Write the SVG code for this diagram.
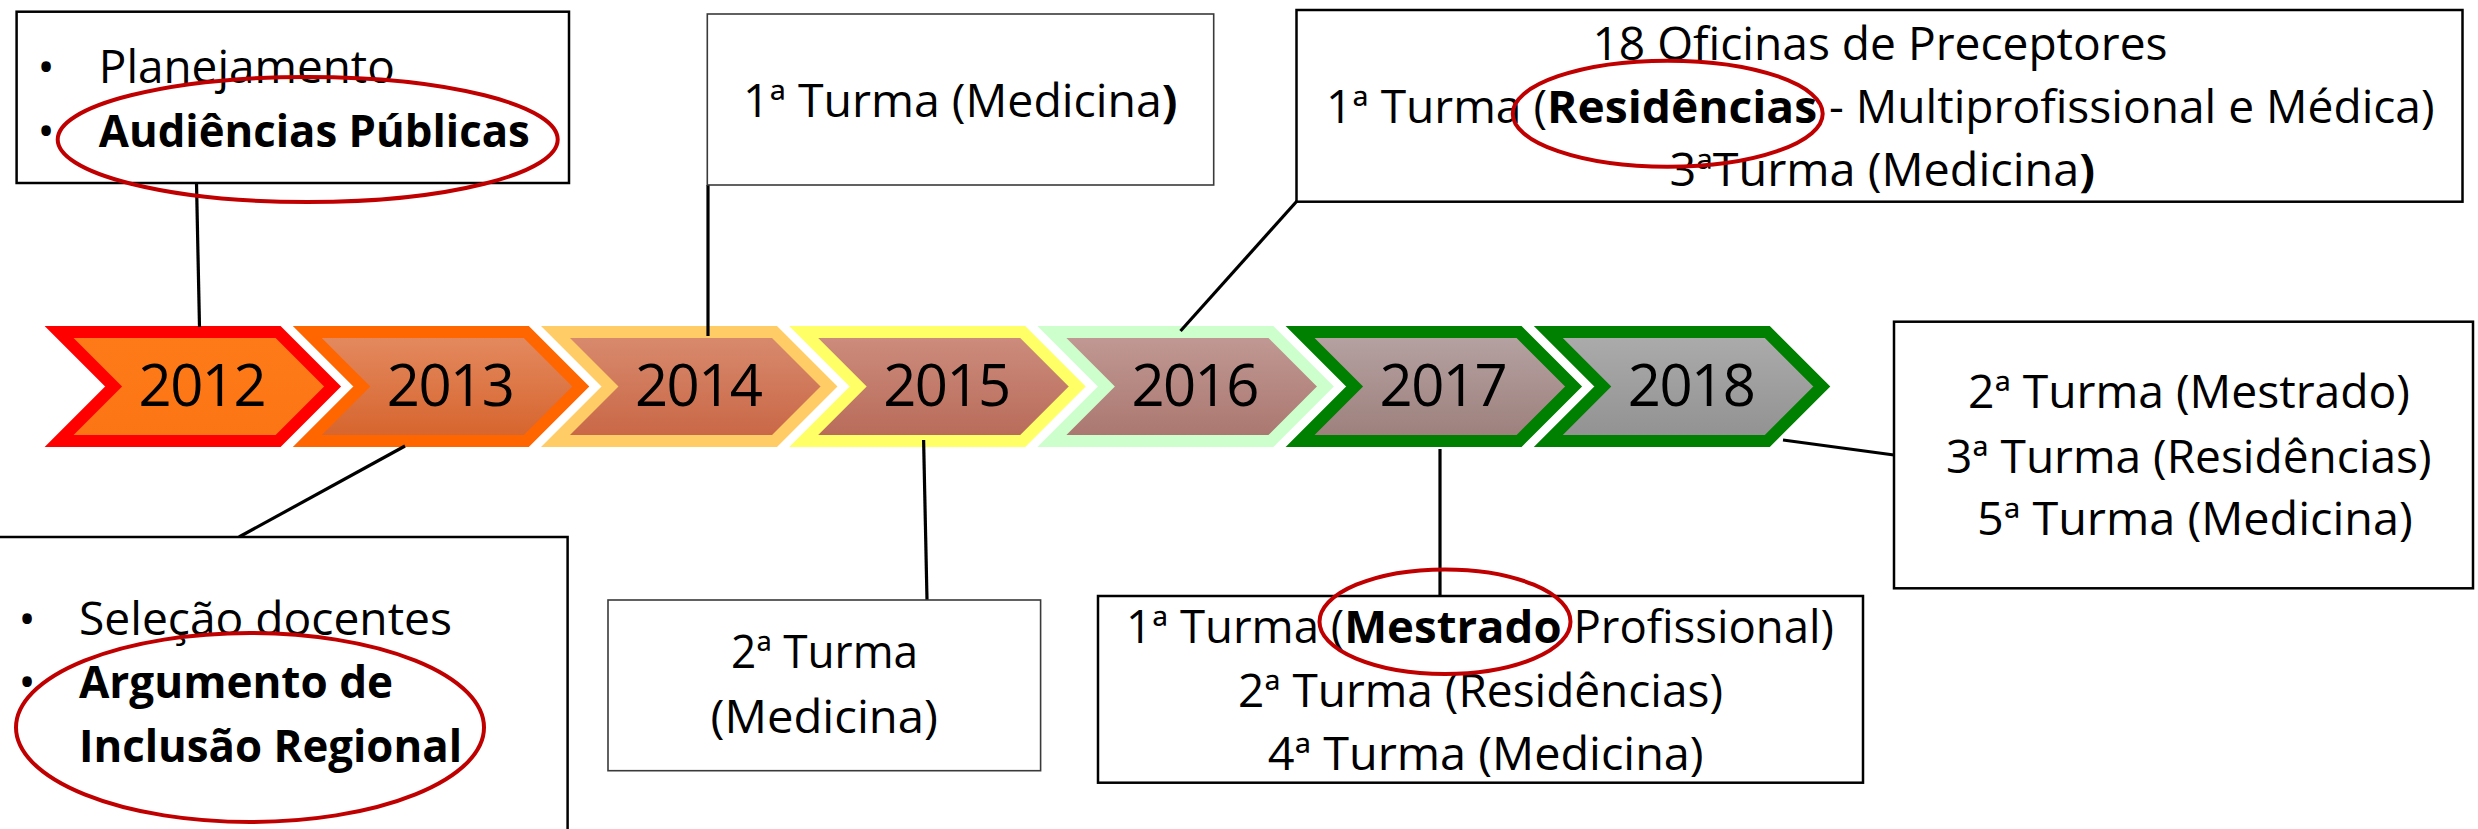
<svg xmlns="http://www.w3.org/2000/svg" width="2478" height="829" viewBox="0 0 2478 829">
<style>
.t{font-family:"Open Sans","Liberation Sans",sans-serif;font-size:45.5px;fill:#000}
.b{font-weight:bold}
.yr{font-family:"Open Sans","Liberation Sans",sans-serif;font-size:58px;fill:#000;text-anchor:middle}
.box{fill:#fff;stroke:#000;stroke-width:2.5}
.thin{fill:#fff;stroke:#3a3a3a;stroke-width:1.6}
.ell{fill:none;stroke:#C00000;stroke-width:4}
.con line{stroke:#000;stroke-width:3.2}
.chev{stroke-width:12;stroke-linejoin:miter}
</style>
<defs>
<path id="chev" d="M14.5,332 H233.5 L288,386.5 L233.5,441 H14.5 L69,386.5 Z"/>
<linearGradient id="g12" x1="0" y1="0" x2="0" y2="1"><stop offset="0" stop-color="#FE7A18"/><stop offset="1" stop-color="#FC7514"/></linearGradient>
<linearGradient id="g13" x1="0" y1="0" x2="0" y2="1"><stop offset="0" stop-color="#E48B62"/><stop offset="1" stop-color="#D6632B"/></linearGradient>
<linearGradient id="g14" x1="0" y1="0" x2="0" y2="1"><stop offset="0" stop-color="#D98B6F"/><stop offset="1" stop-color="#C86645"/></linearGradient>
<linearGradient id="g15" x1="0" y1="0" x2="0" y2="1"><stop offset="0" stop-color="#CD8D7E"/><stop offset="1" stop-color="#B86A58"/></linearGradient>
<linearGradient id="g16" x1="0" y1="0" x2="0" y2="1"><stop offset="0" stop-color="#C29A95"/><stop offset="1" stop-color="#A9766E"/></linearGradient>
<linearGradient id="g17" x1="0" y1="0" x2="0" y2="1"><stop offset="0" stop-color="#B6A3A3"/><stop offset="1" stop-color="#9C7F7B"/></linearGradient>
<linearGradient id="g18" x1="0" y1="0" x2="0" y2="1"><stop offset="0" stop-color="#ACACAC"/><stop offset="1" stop-color="#919191"/></linearGradient>
</defs>
<rect width="2478" height="829" fill="#fff"/>

<g id="timeline">
<g id="y2012"><use href="#chev" class="chev" transform="translate(44.6,0)" fill="url(#g12)" stroke="#FF0000"/><text class="yr" x="202.6" y="406" textLength="128">2012</text></g>
<g id="y2013"><use href="#chev" class="chev" transform="translate(292.8,0)" fill="url(#g13)" stroke="#FF6600"/><text class="yr" x="450.8" y="406" textLength="128">2013</text></g>
<g id="y2014"><use href="#chev" class="chev" transform="translate(541,0)" fill="url(#g14)" stroke="#FFCC66"/><text class="yr" x="699" y="406" textLength="128">2014</text></g>
<g id="y2015"><use href="#chev" class="chev" transform="translate(789.2,0)" fill="url(#g15)" stroke="#FFFF66"/><text class="yr" x="947.2" y="406" textLength="128">2015</text></g>
<g id="y2016"><use href="#chev" class="chev" transform="translate(1037.4,0)" fill="url(#g16)" stroke="#CCFFCC"/><text class="yr" x="1195.4" y="406" textLength="128">2016</text></g>
<g id="y2017"><use href="#chev" class="chev" transform="translate(1285.6,0)" fill="url(#g17)" stroke="#008000"/><text class="yr" x="1443.6" y="406" textLength="128">2017</text></g>
<g id="y2018"><use href="#chev" class="chev" transform="translate(1533.8,0)" fill="url(#g18)" stroke="#008000"/><text class="yr" x="1691.8" y="406" textLength="128">2018</text></g>
</g>

<g id="connectors" class="con">
<line x1="196.5" y1="183" x2="199.5" y2="327"/>
<line x1="405" y1="446" x2="239" y2="537"/>
<line x1="708" y1="185" x2="708" y2="336"/>
<line x1="923.6" y1="440" x2="927" y2="600"/>
<line x1="1180.5" y1="331" x2="1297" y2="201"/>
<line x1="1440" y1="449" x2="1440" y2="596"/>
<line x1="1783" y1="440" x2="1894" y2="455"/>
</g>

<g id="note2012">
<rect class="box" x="16.6" y="11.7" width="552.4" height="171.3"/>
<text class="t" x="46" y="83" text-anchor="middle">•</text>
<text class="t" x="98.8" y="83" textLength="296" lengthAdjust="spacingAndGlyphs">Planejamento</text>
<text class="t" x="46" y="146.7" text-anchor="middle">•</text>
<text class="t b" x="98.8" y="146.7" textLength="431" lengthAdjust="spacingAndGlyphs">Audiências Públicas</text>
<ellipse class="ell" cx="307.7" cy="139.5" rx="250" ry="62.5"/>
</g>

<g id="note2013">
<rect class="box" x="-5" y="537" width="572.6" height="310"/>
<text class="t" x="27" y="635" text-anchor="middle">•</text>
<text class="t" x="79" y="635" textLength="373" lengthAdjust="spacingAndGlyphs">Seleção docentes</text>
<text class="t" x="27" y="698" text-anchor="middle">•</text>
<text class="t b" x="79" y="698" textLength="314" lengthAdjust="spacingAndGlyphs">Argumento de</text>
<text class="t b" x="79" y="761.7" textLength="383" lengthAdjust="spacingAndGlyphs">Inclusão Regional</text>
<ellipse class="ell" cx="250" cy="727.5" rx="234" ry="94.5"/>
</g>

<g id="note2014">
<rect class="thin" x="707.3" y="14" width="506.4" height="171"/>
<text class="t" x="743" y="117.3" textLength="434.5" lengthAdjust="spacingAndGlyphs">1ª Turma (Medicina<tspan class="b">)</tspan></text>
</g>

<g id="note2015">
<rect class="thin" x="608" y="600" width="432.6" height="170.7"/>
<text class="t" x="731" y="668.3" textLength="187" lengthAdjust="spacingAndGlyphs">2ª Turma</text>
<text class="t" x="710.5" y="732.7" textLength="227.5" lengthAdjust="spacingAndGlyphs">(Medicina)</text>
</g>

<g id="note2016">
<rect class="box" x="1296.5" y="10" width="1166" height="191.7"/>
<text class="t" x="1592.5" y="60" textLength="575" lengthAdjust="spacingAndGlyphs">18 Oficinas de Preceptores</text>
<text class="t" x="1326" y="123.3" textLength="1108.6" lengthAdjust="spacingAndGlyphs">1ª Turma (<tspan class="b">Residências</tspan> - Multiprofissional e Médica)</text>
<text class="t" x="1669.5" y="186" textLength="425.5" lengthAdjust="spacingAndGlyphs">3ªTurma (Medicina<tspan class="b">)</tspan></text>
<ellipse class="ell" cx="1667.7" cy="113.7" rx="155" ry="53"/>
</g>

<g id="note2017">
<rect class="box" x="1098" y="596" width="765" height="186.7"/>
<text class="t" x="1126" y="643.3" textLength="708" lengthAdjust="spacingAndGlyphs">1ª Turma (<tspan class="b">Mestrado</tspan> Profissional)</text>
<text class="t" x="1238" y="706.7" textLength="485" lengthAdjust="spacingAndGlyphs">2ª Turma (Residências)</text>
<text class="t" x="1267.7" y="770" textLength="436" lengthAdjust="spacingAndGlyphs">4ª Turma (Medicina)</text>
<ellipse class="ell" cx="1445" cy="621.7" rx="125.5" ry="52.3"/>
</g>

<g id="note2018">
<rect class="box" x="1894" y="321.7" width="579" height="266.6"/>
<text class="t" x="1968" y="408.3" textLength="442" lengthAdjust="spacingAndGlyphs">2ª Turma (Mestrado)</text>
<text class="t" x="1946" y="473.3" textLength="485.5" lengthAdjust="spacingAndGlyphs">3ª Turma (Residências)</text>
<text class="t" x="1977" y="535" textLength="435.7" lengthAdjust="spacingAndGlyphs">5ª Turma (Medicina)</text>
</g>
</svg>
